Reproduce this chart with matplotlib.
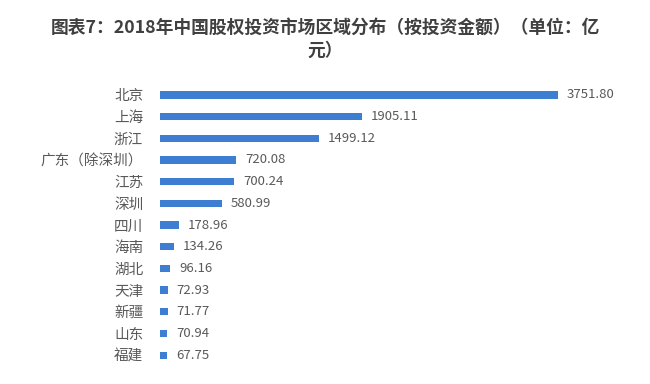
import matplotlib
matplotlib.use('Agg')
from matplotlib import pyplot as plt
import numpy as np

plt.rcParams['font.family'] = ['Noto Sans CJK SC', 'DejaVu Sans']

regions = ['北京', '上海', '浙江', '广东（除深圳）', '江苏', '深圳', '四川', '海南',
           '湖北', '天津', '新疆', '山东', '福建']
amounts = [3751.80, 1905.11, 1499.12, 720.08, 700.24, 580.99, 178.96, 134.26,
           96.16, 72.93, 71.77, 70.94, 67.75]
title = '图表7：2018年中国股权投资市场区域分布（按投资金额）（单位：亿\n元）'

fig = plt.figure(figsize=(6.5, 3.84), dpi=100)
ax = fig.add_axes([0.246, 0.047, 0.708, 0.734])

pos = np.arange(len(regions))
ax.barh(pos, amounts, height=0.33, color='#3d7ed3')
for p, v in zip(pos, amounts):
    ax.text(v + 85, p, '%.2f' % v, va='center', ha='left', fontsize=9.5, color='#595959')

ax.set_yticks(pos)
ax.set_yticklabels(regions, fontsize=10.5, color='#595959')
ax.tick_params(axis='y', length=0, pad=12)
ax.set_xticks([])
ax.set_xlim(0, 4340)
ax.set_ylim(len(regions) - 0.5, -0.5)
for sp in ax.spines.values():
    sp.set_visible(False)

fig.text(0.5, 0.898, title, ha='center', va='center', fontsize=12.8,
         fontweight='bold', color='#404040', linespacing=1.3)

fig.savefig('out.png', dpi=100)
